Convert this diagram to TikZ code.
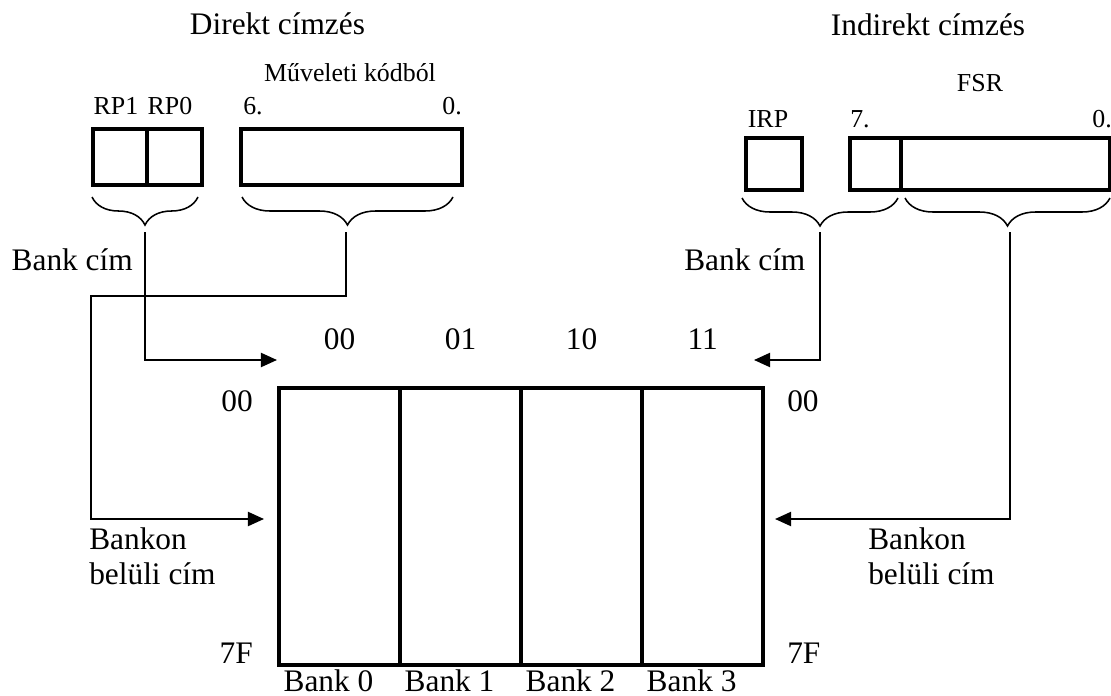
\documentclass[tikz,border=0pt]{standalone}
\usepackage{fontspec}
\setmainfont{Liberation Serif}
\usetikzlibrary{positioning, arrows.meta, decorations.pathreplacing}

\tikzset{
  big/.style={font=\fontsize{22.3}{25.5}\selectfont, inner sep=0pt},
  small/.style={font=\fontsize{18.4}{22}\selectfont, inner sep=0pt},
  regbox/.style={draw, line width=2.4pt, inner sep=0pt, outer sep=0pt},
  bankbox/.style={draw, line width=2.8pt, inner sep=0pt, outer sep=0pt, minimum width=3.025cm, minimum height=6.925cm},
  conn/.style={line width=1.4pt},
  arr/.style={conn, -{Triangle[length=0.4cm, width=0.35cm]}},
  curly/.style={decorate, decoration={brace, mirror, amplitude=0.7cm}, line width=1.1pt},
}

\begin{document}
\begin{tikzpicture}[x=0.025cm, y=-0.025cm]
      \useasboundingbox (0,0) rectangle (1111,696);

      % Titles
      \node[big, anchor=base] (dirtitle) at (277.5,35) {Direkt címzés};
      \node[big, anchor=base] (indtitle) at (928,36) {Indirekt címzés};
      \node[small, anchor=base] (optitle) at (350,82) {Műveleti kódból};
      \node[small, anchor=base] (fsrtitle) at (980,92) {FSR};

      % Direct registers
      \node[regbox, minimum width=1.35cm, minimum height=1.4cm] (rp1) at (120,157) {};
      \node[regbox, minimum width=1.375cm, minimum height=1.4cm, right=0cm of rp1] (rp0) {};
      \node[regbox, minimum width=5.525cm, minimum height=1.4cm] (opc) at (351.5,157) {};
      \node[small, anchor=base] (rp1lbl) at (116,114) {RP1};
      \node[small, anchor=base] (rp0lbl) at (170,114) {RP0};
      \node[small, anchor=base west] (opchi) at (243,114) {6.};
      \node[small, anchor=base east] (opclo) at (462,114) {0.};

      % Indirect registers
      \node[regbox, minimum width=1.4cm, minimum height=1.3cm] (irp) at (774,164) {};
      \node[regbox, minimum width=1.275cm, minimum height=1.3cm] (fsrhi) at (875.5,164) {};
      \node[regbox, minimum width=5.225cm, minimum height=1.3cm, right=0cm of fsrhi] (fsrlo) {};
      \node[small, anchor=base] (irplbl) at (768,128) {IRP};
      \node[small, anchor=base west] (fsrhilbl) at (850,128) {7.};
      \node[small, anchor=base east] (fsrlolbl) at (1112,128) {0.};

      % Braces
      \draw[curly] (92,197) -- (198,197);
      \draw[curly] (242,197) -- (453,197);
      \draw[curly] (742,198) -- (898,198);
      \draw[curly] (905,198) -- (1110,198);

      % Memory banks
      \node[bankbox] (bank0) at (339.5,526.5) {};
      \node[bankbox, right=0cm of bank0] (bank1) {};
      \node[bankbox, right=0cm of bank1] (bank2) {};
      \node[bankbox, right=0cm of bank2] (bank3) {};

      % Bank numbers
      \node[big, above=0.95cm of bank0] (col0) {00};
      \node[big, above=0.95cm of bank1] (col1) {01};
      \node[big, above=0.95cm of bank2] (col2) {10};
      \node[big, above=0.95cm of bank3] (col3) {11};
      \node[big, below=0.12cm of bank0, xshift=-0.275cm] (name0) {Bank 0};
      \node[big, below=0.12cm of bank1, xshift=-0.275cm] (name1) {Bank 1};
      \node[big, below=0.12cm of bank2, xshift=-0.275cm] (name2) {Bank 2};
      \node[big, below=0.12cm of bank3, xshift=-0.275cm] (name3) {Bank 3};

      % Row addresses
      \node[big, anchor=base east] (lfirst) at (253,411) {00};
      \node[big, anchor=base east] (llast) at (253,663) {7F};
      \node[big, anchor=base west] (rfirst) at (787,411) {00};
      \node[big, anchor=base west] (rlast) at (787,663) {7F};

      % Texts at the connectors
      \node[big, anchor=base east] (lbank) at (133,270) {Bank cím};
      \node[big, anchor=base west] (rbank) at (684,270) {Bank cím};
      \node[big, anchor=north west, align=left] (lin) at (89,527) {Bankon\\belüli cím};
      \node[big, anchor=north west, align=left] (rin) at (868,527) {Bankon\\belüli cím};

      % Connector points
      \coordinate (rptip) at (145,232);
      \coordinate (optip) at (346,232);
      \coordinate (irtip) at (820,232);
      \coordinate (fstip) at (1010,232);
      \coordinate (opbend) at (91,296);
      \coordinate (selleft) at (277,360);
      \coordinate (selright) at (754,360);
      \coordinate (inleft) at (264,519);
      \coordinate (inright) at (775,519);

      % Arrows
      \draw[arr] (rptip) |- (selleft);
      \draw[arr] (optip) |- (opbend) |- (inleft);
      \draw[arr] (irtip) |- (selright);
      \draw[arr] (fstip) |- (inright);
    \end{tikzpicture}
\end{document}
